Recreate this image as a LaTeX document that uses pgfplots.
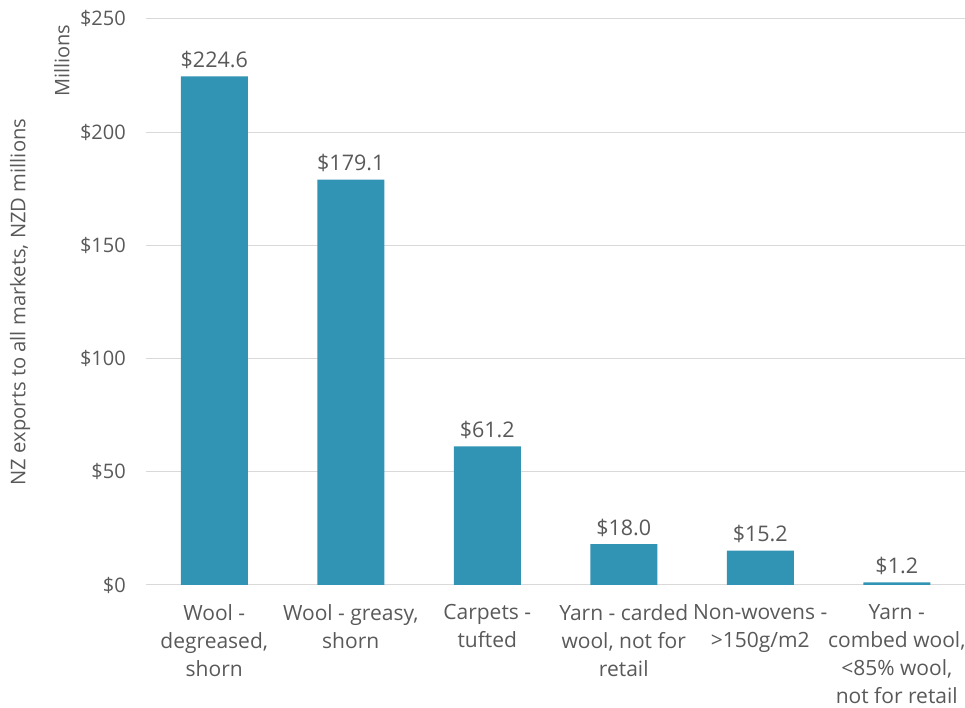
\documentclass[border=0pt]{standalone}
\usepackage{pgfplots}
\pgfplotsset{compat=1.18}
\usepackage{fontspec}
\setmainfont{Open Sans}
\definecolor{barc}{HTML}{3194B5}
\definecolor{txt}{HTML}{595959}
\definecolor{gridc}{HTML}{D9D9D9}
\begin{document}
\fontsize{20}{28}\selectfont
\begin{tikzpicture}
\useasboundingbox (0pt,0pt) rectangle (965pt,708pt);
\begin{axis}[
  at={(146pt,123pt)}, anchor=south west,
  scale only axis, width=819pt, height=566pt,
  xmin=-0.5, xmax=5.5, ymin=0, ymax=250,
  ytick={0,50,100,150,200,250},
  xtick={0,1,2,3,4,5},
  xticklabels={{Wool -\\degreased,\\shorn},{Wool - greasy,\\shorn},{Carpets -\\tufted},{Yarn - carded\\wool, not for\\retail},{Non-wovens -\\>150g/m2},{Yarn -\\combed wool,\\<85\% wool,\\not for retail}},
  /pgf/number format/assume math mode=true,
  yticklabel={\$\pgfmathprintnumber{\tick}},
  axis line style={draw=none},
  major tick length=0pt,
  ymajorgrids, grid style={gridc, line width=1pt},
  every tick label/.append style={txt, font=\fontsize{20}{28}\selectfont},
  yticklabel style={anchor=east, inner sep=0pt, xshift=-20pt},
  xticklabel style={anchor=north, align=center, inner sep=0pt, yshift=-19pt, font=\fontsize{21}{28}\selectfont},
  ylabel={NZ exports to all markets, NZD millions},
  ylabel style={at={(axis description cs:-0.1538,0.5)}, anchor=center, rotate=0, txt, font=\fontsize{20.2}{28}\selectfont},
  ybar, bar width=67pt,
  nodes near coords={\$\pgfmathprintnumber[fixed,fixed zerofill,precision=1]{\pgfplotspointmeta}},
  every node near coord/.append style={txt, font=\fontsize{21.5}{28}\selectfont, anchor=south, yshift=1pt},
  clip=false,
]
\addplot[fill=barc, draw=none] coordinates {(0,224.6) (1,179.1) (2,61.2) (3,18.0) (4,15.2) (5,1.2)};
\node[rotate=90, txt, font=\fontsize{20}{28}\selectfont] at (axis description cs:-0.1026,0.926) {Millions};
\end{axis}
\end{tikzpicture}
\end{document}
